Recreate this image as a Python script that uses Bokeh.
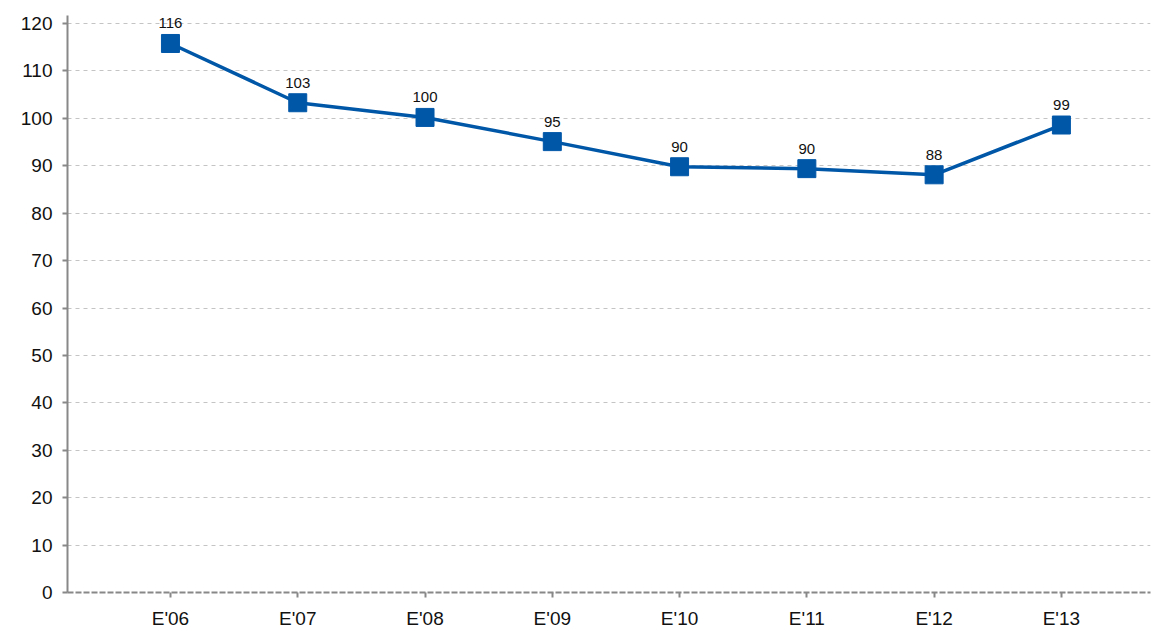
from bokeh.plotting import figure
from bokeh.models import ColumnDataSource, Range1d, FixedTicker, LabelSet
from bokeh.core.properties import value
from bokeh.embed import file_html
from bokeh.resources import INLINE

categories = ["E'06", "E'07", "E'08", "E'09", "E'10", "E'11", "E'12", "E'13"]
values = [115.8, 103.3, 100.2, 95.1, 89.8, 89.4, 88.1, 98.6]
labels = ["116", "103", "100", "95", "90", "90", "88", "99"]
y_ticks = list(range(0, 121, 10))

xs = list(range(len(categories)))
src = ColumnDataSource(data=dict(x=xs, y=values, label=labels))

p = figure(width=1152, height=631, output_backend="svg", toolbar_location=None,
           x_range=Range1d(-0.809, 7.70), y_range=Range1d(0, 121.7),
           min_border_left=67, min_border_top=15, min_border_right=2, min_border_bottom=39)
p.outline_line_color = None
p.background_fill_color = "white"

p.line("x", "y", source=src, line_color="#0057A8", line_width=3.5)
p.scatter("x", "y", source=src, marker="square", size=18, fill_color="#0057A8", line_color="#0057A8")

lbl = LabelSet(x="x", y="y", text="label", source=src, text_align="center",
               text_baseline="bottom", y_offset=15, text_font=value("Liberation Sans"),
               text_font_size="15px", text_color="#111111")
p.add_layout(lbl)

p.xaxis.ticker = FixedTicker(ticks=xs)
p.xaxis.major_label_overrides = {i: c for i, c in enumerate(categories)}
p.yaxis.ticker = FixedTicker(ticks=y_ticks)

for ax in (p.xaxis, p.yaxis):
    ax.major_label_text_font = "Liberation Sans"
    ax.major_label_text_font_size = "19px"
    ax.major_label_text_color = "#111111"
    ax.major_tick_line_color = "#888888"
    ax.major_tick_line_width = 2
    ax.major_tick_out = 5
    ax.major_tick_in = 0
    ax.minor_tick_line_color = None
    ax.axis_line_color = "#888888"
    ax.axis_line_width = 2

p.xaxis.axis_line_dash = "6 2"
p.xaxis.major_label_standoff = 10
p.yaxis.major_label_standoff = 10

p.xgrid.grid_line_color = None
p.ygrid.grid_line_color = "#c4c4c4"
p.ygrid.grid_line_dash = "4 4"
p.ygrid.grid_line_width = 1

open("out.html", "w").write(file_html(p, INLINE))
